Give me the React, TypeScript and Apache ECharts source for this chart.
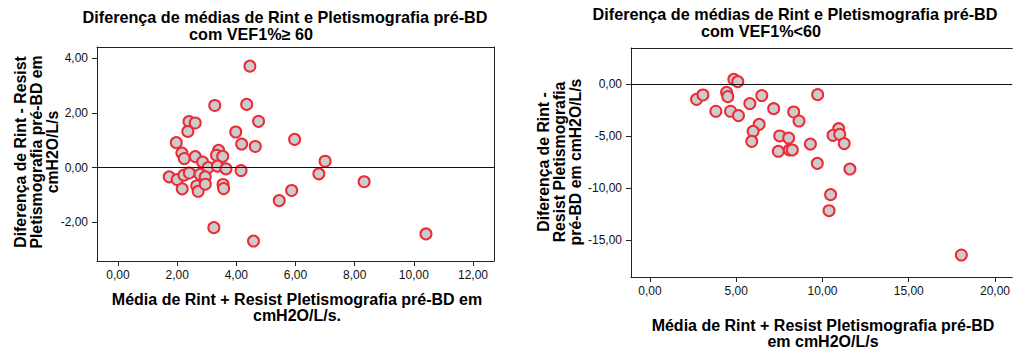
import React, { useEffect, useRef } from "react";
import * as echarts from "echarts";

// ---- Data: VEF1% >= 60 (left panel) ----
const leftMean = [4.46, 3.27, 4.35, 2.40, 2.61, 4.75, 2.36, 3.98, 1.97, 4.18, 4.64, 5.97, 2.16, 2.24, 2.61, 2.86, 3.40, 3.33, 3.54, 7.00, 3.05, 3.36, 3.65, 4.16, 1.73, 2.00, 2.23, 2.41, 2.77, 2.95, 2.17, 2.66, 2.71, 2.95, 3.55, 3.57, 6.79, 8.32, 5.87, 5.45, 3.24, 4.58, 10.41];
const leftDiff = [3.71, 2.27, 2.31, 1.68, 1.63, 1.69, 1.32, 1.30, 0.91, 0.86, 0.77, 1.03, 0.53, 0.33, 0.40, 0.20, 0.63, 0.45, 0.41, 0.23, 0.00, 0.05, -0.05, -0.11, -0.34, -0.44, -0.28, -0.20, -0.25, -0.34, -0.78, -0.67, -0.87, -0.61, -0.62, -0.77, -0.23, -0.52, -0.84, -1.21, -2.20, -2.69, -2.43];

// ---- Data: VEF1% < 60 (right panel) ----
const rightMean = [4.86, 5.09, 2.70, 3.07, 4.44, 4.51, 3.82, 4.67, 5.13, 5.79, 6.48, 7.17, 6.33, 5.98, 5.90, 7.52, 8.04, 7.44, 8.08, 8.25, 8.33, 8.64, 9.72, 9.30, 9.70, 10.94, 10.61, 11.00, 11.26, 11.59, 10.47, 10.38, 18.05];
const rightDiff = [0.48, 0.26, -1.45, -1.03, -0.77, -1.19, -2.60, -2.60, -3.02, -1.86, -1.09, -2.35, -3.86, -4.53, -5.50, -4.98, -5.18, -6.46, -6.33, -6.33, -2.67, -3.54, -1.00, -5.76, -7.62, -4.28, -4.92, -4.82, -5.72, -8.17, -10.64, -12.19, -16.46];

const leftXTicks = [0, 2, 4, 6, 8, 10, 12];
const leftYTicks = [-2, 0, 2, 4];
const rightXTicks = [0, 5, 10, 15, 20];
const rightYTicks = [-15, -10, -5, 0];

const titleLine1 = "Diferença de médias de Rint e Pletismografia pré-BD";
const leftTitle2 = "com VEF1%\u2265 60";
const rightTitle2 = "com VEF1%<60";
const leftXName = ["Média de Rint + Resist Pletismografia pré-BD em", "cmH2O/L/s."];
const rightXName = ["Média de Rint + Resist Pletismografia pré-BD", "em cmH2O/L/s"];
const leftYName = ["Diferença de Rint - Resist", "Pletismografia pré-BD em", "cmH2O/L/s"];
const rightYName = ["Diferença de Rint -", "Resist Pletismografia", "pré-BD em cmH2O/L/s"];

const FONT = "Arial, 'Liberation Sans', sans-serif";
const fmt = (v: number) => v.toFixed(2).replace(".", ",");

export default function App() {
  const ref = useRef<HTMLDivElement>(null);
  useEffect(() => {
    if (!ref.current) return;
    const chart = echarts.init(ref.current, undefined, { renderer: "svg" });
    const lineStyle = { color: "#222", width: 1 };
    const tickStyle = { show: true, length: 5, lineStyle: { color: "#222", width: 1 } };
    const labelStyle = { color: "#111", fontSize: 12, fontFamily: FONT, formatter: fmt };
    const mainX = (gridIndex: number, min: number, max: number, ticks: number[]) => ({
      type: "value", gridIndex, min, max, position: "bottom",
      axisLine: { show: true, onZero: false, lineStyle },
      axisTick: { ...tickStyle, customValues: ticks },
      axisLabel: { ...labelStyle, margin: 8, customValues: ticks },
      splitLine: { show: false },
    });
    const mainY = (gridIndex: number, min: number, max: number, ticks: number[]) => ({
      type: "value", gridIndex, min, max, position: "left",
      axisLine: { show: true, onZero: false, lineStyle },
      axisTick: { ...tickStyle, customValues: ticks },
      axisLabel: { ...labelStyle, margin: 9, customValues: ticks },
      splitLine: { show: false },
    });
    const lineOnly = (gridIndex: number, position: string) => ({
      type: "value", gridIndex, position,
      axisLine: { show: true, onZero: false, lineStyle },
      axisTick: { show: false }, axisLabel: { show: false }, splitLine: { show: false },
    });
    const scatter = (xi: number, yi: number, xs: number[], ys: number[]) => ({
      type: "scatter", xAxisIndex: xi, yAxisIndex: yi,
      data: xs.map((x, i) => [x, ys[i]]),
      symbol: "circle", symbolSize: 11,
      itemStyle: { color: "#cccccc", borderColor: "#ee2a36", borderWidth: 2, opacity: 1 },
      markLine: {
        silent: true, symbol: ["none", "none"], label: { show: false },
        lineStyle: { color: "#111", width: 1, type: "solid" },
        data: [{ yAxis: 0 }],
      },
    });
    const text = (t: string, x: number, y: number, size: number, rotation = 0, lh = 16) => ({
      type: "text", x, y, rotation, silent: true,
      style: {
        text: t, fill: "#000", align: "center", verticalAlign: "middle",
        font: `bold ${size}px ${FONT}`, lineHeight: lh,
      },
    });
    chart.setOption({
      animation: false,
      backgroundColor: "#fff",
      grid: [
        { left: 97, top: 47, width: 397, height: 214 },
        { left: 631, top: 48, width: 382, height: 229 },
      ],
      xAxis: [
        mainX(0, -0.71, 12.71, leftXTicks),
        lineOnly(0, "top"),
        mainX(1, -1.1, 21.0, rightXTicks),
        lineOnly(1, "top"),
      ],
      yAxis: [
        mainY(0, -3.42, 4.41, leftYTicks),
        lineOnly(0, "right"),
        mainY(1, -18.58, 3.5, rightYTicks),
      ],
      series: [
        scatter(0, 0, leftMean, leftDiff),
        scatter(2, 2, rightMean, rightDiff),
      ],
      graphic: [
        text(titleLine1, 285, 17, 16.2),
        text(leftTitle2, 251, 34, 16.2),
        text(titleLine1, 795, 14, 16.2),
        text(rightTitle2, 761, 31, 16.2),
        text(leftXName.join("\n"), 297, 307, 16),
        text(rightXName.join("\n"), 823, 333, 16),
        text(leftYName.join("\n"), 36, 152, 15.8, Math.PI / 2),
        text(rightYName.join("\n"), 559, 162, 15.8, Math.PI / 2),
      ],
    });
    return () => chart.dispose();
  }, []);
  return <div ref={ref} style={{ position: "absolute", left: 0, top: 0, width: 1013, height: 349 }} />;
}
